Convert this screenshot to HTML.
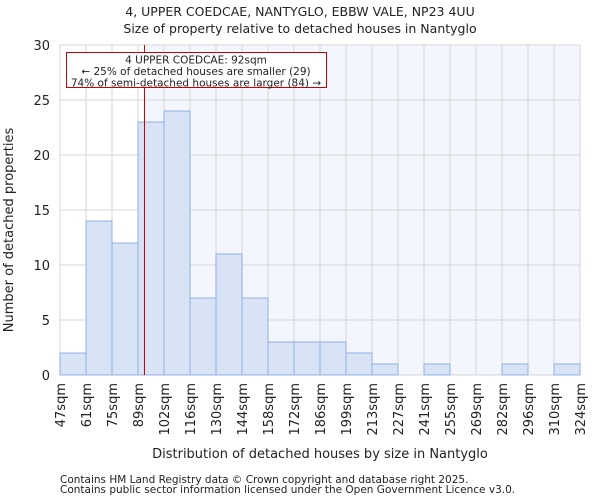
<!DOCTYPE html>
<html><head><meta charset="utf-8"><style>
body{margin:0;background:#fff;font-family:"DejaVu Sans","Liberation Sans",sans-serif}
svg text{font-family:"DejaVu Sans","Liberation Sans",sans-serif;fill:#222}
</style></head><body>
<svg id="c" width="600" height="500"></svg>
<script>
const edges=["47sqm","61sqm","75sqm","89sqm","102sqm","116sqm","130sqm","144sqm","158sqm","172sqm","186sqm","199sqm","213sqm","227sqm","241sqm","255sqm","269sqm","282sqm","296sqm","310sqm","324sqm"];
const counts=[2,14,12,23,24,7,11,7,3,3,3,2,1,0,1,0,0,1,0,1];
const yTicks=[0,5,10,15,20,25,30];
const marker=92, binStart=47, binWidth=13.85;
const X0=60,X1=580,Y0=375,Y1=45,yMax=30;
const bw=(X1-X0)/counts.length;
const y=v=>Y0-(v/yMax)*(Y0-Y1);
const xv=v=>X0+(v-binStart)/binWidth*bw;
const s=document.getElementById('c'),NS='http://www.w3.org/2000/svg';
function el(t,a,p){const e=document.createElementNS(NS,t);for(const k in a)e.setAttribute(k,a[k]);(p||s).appendChild(e);return e;}
const mx=xv(marker);
let e=el('rect',{x:mx,y:Y1,width:X1-mx,height:Y0-Y1,fill:'#f3f6fd'});

for(let i=0;i<=counts.length;i++){e=el('line',{x1:X0+i*bw,x2:X0+i*bw,y1:Y1,y2:Y0,stroke:'#d6d6d6','stroke-width':1});
}
yTicks.forEach(t=>{e=el('line',{x1:X0,x2:X1,y1:y(t),y2:y(t),stroke:'#d6d6d6','stroke-width':1});

e=el('text',{x:X0-10,y:y(t)+5,'text-anchor':'end','font-size':13});e.textContent=t;
});
counts.forEach((c,i)=>{if(!c)return;e=el('rect',{x:X0+i*bw,y:y(c),width:bw,height:Y0-y(c),fill:'#d8e3f5',stroke:'#8fb0e2','stroke-width':1});
});
edges.forEach((l,i)=>{const xx=X0+i*bw;e=el('text',{x:0,y:0,'text-anchor':'end','font-size':13,transform:`translate(${xx+5},383) rotate(-90)`});e.textContent=l;
});
e=el('line',{x1:mx,x2:mx,y1:Y1,y2:Y0,stroke:'#cc0000','stroke-width':1});

e=el('rect',{x:66.5,y:52.5,width:260,height:35,fill:'#fff',stroke:'#cc0000','stroke-width':1});

["4 UPPER COEDCAE: 92sqm","← 25% of detached houses are smaller (29)","74% of semi-detached houses are larger (84) →"].forEach((t,i)=>{
e=el('text',{x:196,y:63.5+i*11.5,'text-anchor':'middle','font-size':10.5});e.textContent=t;
});
e=el('text',{x:300,y:16,'text-anchor':'middle','font-size':12.5});e.textContent="4, UPPER COEDCAE, NANTYGLO, EBBW VALE, NP23 4UU";

e=el('text',{x:300,y:33,'text-anchor':'middle','font-size':12.5});e.textContent="Size of property relative to detached houses in Nantyglo";

e=el('text',{x:0,y:0,'text-anchor':'middle','font-size':13,transform:'translate(13,230) rotate(-90)'});e.textContent="Number of detached properties";

e=el('text',{x:320,y:458,'text-anchor':'middle','font-size':13});e.textContent="Distribution of detached houses by size in Nantyglo";

["Contains HM Land Registry data © Crown copyright and database right 2025.","Contains public sector information licensed under the Open Government Licence v3.0."].forEach((t,i)=>{
e=el('text',{x:60,y:483+i*10,'font-size':10.5,fill:'#444'});e.textContent=t;
});
</script></body></html>
